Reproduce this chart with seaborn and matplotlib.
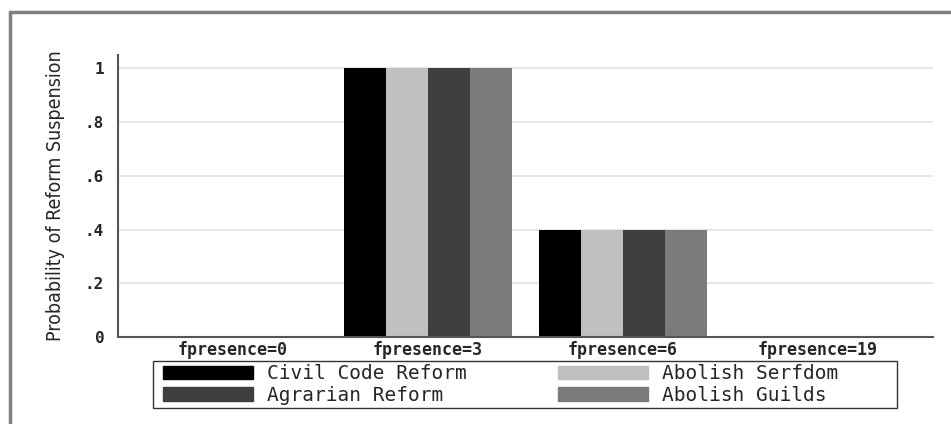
import pandas as pd
import matplotlib.pyplot as plt
import seaborn as sns
from matplotlib.lines import Line2D
from matplotlib.patches import Rectangle

# data
groups = ['fpresence=0', 'fpresence=3', 'fpresence=6', 'fpresence=19']
reforms = ['Civil Code Reform', 'Abolish Serfdom', 'Agrarian Reform', 'Abolish Guilds']
civil_code = [0, 1, 0.4, 0]
serfdom = [0, 1, 0.4, 0]
agrarian = [0, 1, 0.4, 0]
guilds = [0, 1, 0.4, 0]
bar_colors = ['#000000', '#c0c0c0', '#3e3e3e', '#7b7b7b']

rows = []
for name, vals in zip(reforms, [civil_code, serfdom, agrarian, guilds]):
    for g, v in zip(groups, vals):
        rows.append({'group': g, 'reform': name, 'prob': v})
df = pd.DataFrame(rows)

sns.set_style('white')
plt.rcParams['font.family'] = ['DejaVu Sans Mono', 'DejaVu Sans']

fig = plt.figure(figsize=(9.51, 4.24), dpi=100)
ax = fig.add_axes([0.1241, 0.2052, 0.857, 0.6651])

sns.barplot(data=df, x='group', y='prob', hue='reform', hue_order=reforms,
            order=groups, palette=bar_colors, saturation=1, width=0.86,
            linewidth=0, ax=ax, legend=False)

ax.set_xlim(-0.59, 3.59)
ax.set_ylim(0, 1.05)
ax.set_yticks([0, 0.2, 0.4, 0.6, 0.8, 1])
ax.set_yticklabels(['0', '.2', '.4', '.6', '.8', '1'], fontsize=11.5, fontweight='bold')
ax.set_xticks(range(len(groups)))
ax.set_xticklabels(groups, fontsize=12, fontweight='bold')
ax.tick_params(axis='y', length=7, width=1.2, color='#555555', pad=3)
ax.tick_params(axis='x', length=0, pad=3)
ax.yaxis.grid(True, color='#e2e2e2', linewidth=1.2)
ax.set_axisbelow(True)
ax.set_xlabel('')
ax.set_ylabel('Probability of Reform Suspension', fontsize=14,
              family=['DejaVu Sans'], stretch='condensed', labelpad=14)

for s in ['top', 'right']:
    ax.spines[s].set_visible(False)
for s in ['left', 'bottom']:
    ax.spines[s].set_color('#555555')
    ax.spines[s].set_linewidth(1.5)

# legend built from the bar colours, row-wise order like the reference
order = [0, 2, 1, 3]
handles = [plt.Rectangle((0, 0), 1, 1, color=bar_colors[i]) for i in order]
labels = [reforms[i] for i in order]
leg = fig.legend(handles, labels, ncol=2, loc='center left',
                 bbox_to_anchor=(0.1714, 0.0932), frameon=False,
                 fontsize=14, handlelength=4.63, handleheight=0.72,
                 handletextpad=0.72, labelspacing=0.12, columnspacing=4.7,
                 borderpad=0, borderaxespad=0)

# legend box
fig.add_artist(Rectangle((153 / 951, 1 - 408 / 424), 744 / 951, 47 / 424,
                         transform=fig.transFigure, fill=False,
                         edgecolor='#333333', linewidth=1.0))

# outer grey frame (top and left edges)
fig.add_artist(Line2D([0.0105, 1.0], [0.9717, 0.9717], color='#808080', linewidth=2.5))
fig.add_artist(Line2D([0.0105, 0.0105], [0.0, 0.9717], color='#808080', linewidth=2.5))

fig.savefig('out.png', dpi=100)
